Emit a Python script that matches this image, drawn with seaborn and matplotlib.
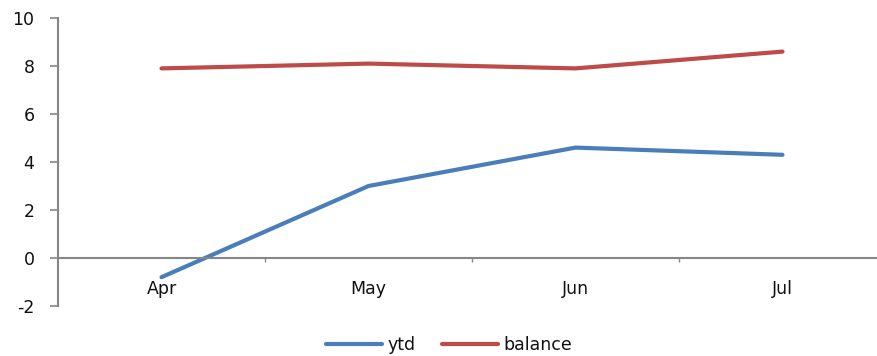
import pandas as pd
import seaborn as sns
import matplotlib.pyplot as plt
from matplotlib.ticker import FixedLocator

# --- data ---
months = ['Apr', 'May', 'Jun', 'Jul']
ytd = [-0.8, 3.0, 4.6, 4.3]
balance = [7.9, 8.1, 7.9, 8.6]

df = pd.DataFrame({
    'month': months * 2,
    'value': ytd + balance,
    'series': ['ytd'] * len(months) + ['balance'] * len(months),
})

sns.set_style("white")
plt.rcParams['font.family'] = ['DejaVu Sans']
plt.rcParams['axes.unicode_minus'] = False
fs = 12.5

fig = plt.figure(figsize=(8.77, 3.56), dpi=100)
ax = fig.add_axes([58 / 877, 1 - 306 / 356, 828 / 877, 288 / 356])

sns.lineplot(
    data=df, x='month', y='value', hue='series',
    hue_order=['ytd', 'balance'],
    palette={'ytd': '#4A7EBB', 'balance': '#BE4B48'},
    linewidth=3, sort=False, legend=False, ax=ax
)

axis_grey = '#868686'
ax.set_xlim(-0.5, 3.5)
ax.set_ylim(-2, 10)
ax.set_yticks(range(-2, 11, 2))
ax.set_xlabel('')
ax.set_ylabel('')

for side in ['top', 'right']:
    ax.spines[side].set_visible(False)
ax.spines['left'].set_color(axis_grey)
ax.spines['left'].set_linewidth(1.5)
ax.spines['bottom'].set_color(axis_grey)
ax.spines['bottom'].set_linewidth(1.5)
ax.spines['bottom'].set_position(('data', 0))

ax.tick_params(axis='y', direction='out', length=6, width=1.2, color=axis_grey,
               pad=11, labelsize=fs, left=True, labelcolor='#111111')
ax.tick_params(axis='x', which='major', length=0, pad=16, labelsize=fs,
               labelcolor='#111111')
ax.xaxis.set_minor_locator(FixedLocator([0.5, 1.5, 2.5]))
ax.tick_params(axis='x', which='minor', direction='out', length=3, width=1,
               color=axis_grey, bottom=True)

handles = [plt.Line2D([], [], color='#4A7EBB', lw=3),
           plt.Line2D([], [], color='#BE4B48', lw=3)]
leg = fig.legend(handles, ['ytd', 'balance'], loc='center',
                 bbox_to_anchor=(449 / 877, 0.031), ncol=2, frameon=False,
                 fontsize=fs, handlelength=3.2, handletextpad=0.3,
                 columnspacing=1.55)
for t in leg.get_texts():
    t.set_color('#111111')

fig.savefig('out.png', dpi=100)
